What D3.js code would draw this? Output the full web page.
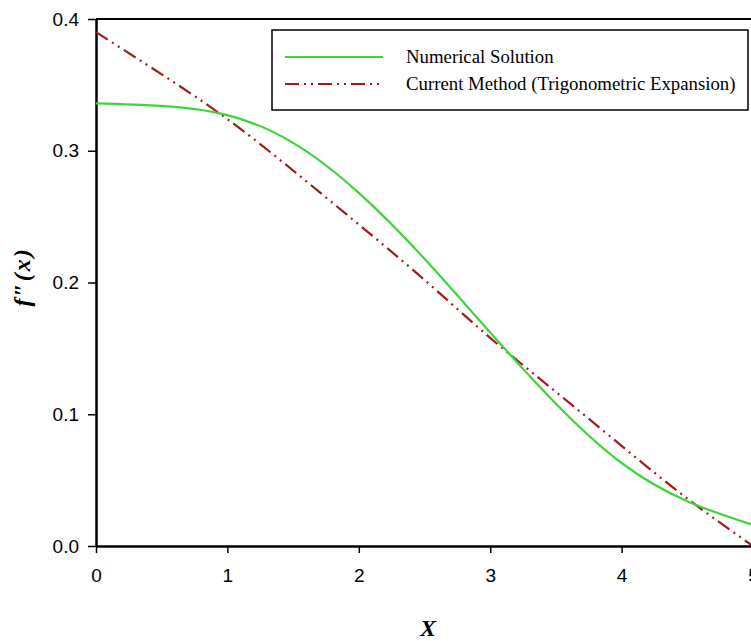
<!DOCTYPE html>
<html>
<head>
<meta charset="utf-8">
<script src="https://d3js.org/d3.v7.min.js"></script>
<style>
  body { margin: 0; background: #fff; }
  .axis text { font-family: "Liberation Sans", Arial, sans-serif; font-size: 19px; fill: #000; }
  .axis path, .axis line { stroke: #000; }
</style>
</head>
<body>
<div id="chartDiv"></div>
<script>
// data
var xs = [0, 0.5, 1, 1.5, 2, 2.5, 3, 3.5, 4, 4.5, 5];
var numerical = [0.336, 0.334, 0.327, 0.306, 0.268, 0.218, 0.162, 0.108, 0.063, 0.034, 0.016];
var current = [0.390, 0.358, 0.324, 0.285, 0.244, 0.202, 0.158, 0.117, 0.076, 0.036, 0.0];
var xTicks = [0, 1, 2, 3, 4, 5];
var yTicks = [0.0, 0.1, 0.2, 0.3, 0.4];
var seriesNames = ["Numerical Solution", "Current Method (Trigonometric Expansion)"];

var W = 751, H = 641;
var plotLeft = 96, plotRight = 753, plotTop = 19, plotBottom = 546;

var svg = d3.select('#chartDiv').append('svg')
  .attr('width', W).attr('height', H);

var x = d3.scaleLinear().domain([0, 5]).range([plotLeft, plotRight]);
var y = d3.scaleLinear().domain([0, 0.4]).range([plotBottom, plotTop]);

// top frame line
svg.append('line')
  .attr('x1', plotLeft).attr('x2', plotRight)
  .attr('y1', plotTop).attr('y2', plotTop)
  .attr('stroke', '#000').attr('stroke-width', 2);

// axes
var xAxis = d3.axisBottom(x).tickValues(xTicks).tickFormat(d3.format('d'))
  .tickSizeInner(7).tickSizeOuter(0).tickPadding(16);
svg.append('g').attr('class', 'axis')
  .attr('transform', 'translate(0,' + plotBottom + ')')
  .call(xAxis)
  .call(function(g) { g.select('.domain').attr('stroke-width', 2.5); g.selectAll('line').attr('stroke-width', 1.5); });

var yAxis = d3.axisLeft(y).tickValues(yTicks).tickFormat(d3.format('.1f'))
  .tickSizeInner(8).tickSizeOuter(0).tickPadding(9);
svg.append('g').attr('class', 'axis')
  .attr('transform', 'translate(' + plotLeft + ',0)')
  .call(yAxis)
  .call(function(g) { g.select('.domain').attr('stroke-width', 2.5); g.selectAll('line').attr('stroke-width', 1.5); });

// lines
var line = function(vals) {
  return d3.line()
    .x(function(d, i) { return x(xs[i]); })
    .y(function(d) { return y(d); })
    .curve(d3.curveNatural)(vals);
};

svg.append('path')
  .attr('d', line(current))
  .attr('fill', 'none')
  .attr('stroke', '#a01c1c')
  .attr('stroke-width', 2.2)
  .attr('stroke-dasharray', '14,5,2,5,2,5');

svg.append('path')
  .attr('d', line(numerical))
  .attr('fill', 'none')
  .attr('stroke', '#3fd43f')
  .attr('stroke-width', 2.2);

// legend
var lg = svg.append('g');
lg.append('rect')
  .attr('x', 272).attr('y', 30).attr('width', 476).attr('height', 80)
  .attr('fill', '#fff').attr('stroke', '#000').attr('stroke-width', 1.5);
var legendColors = ['#3fd43f', '#a01c1c'];
var legendDash = [null, '14,5,2,5,2,5'];
seriesNames.forEach(function(name, i) {
  var ly = 57 + i * 27;
  lg.append('line')
    .attr('x1', 285).attr('x2', 383).attr('y1', ly).attr('y2', ly)
    .attr('stroke', legendColors[i]).attr('stroke-width', 2.2)
    .attr('stroke-dasharray', legendDash[i]);
  lg.append('text')
    .attr('x', 406).attr('y', ly + 6)
    .style('font-family', '"Liberation Serif", "Times New Roman", serif')
    .style('font-size', '18.8px')
    .text(name);
});

// axis titles
svg.append('text')
  .attr('x', 428).attr('y', 636)
  .attr('text-anchor', 'middle')
  .style('font-family', '"Liberation Serif", "Times New Roman", serif')
  .style('font-size', '24px').style('font-weight', 'bold').style('font-style', 'italic')
  .text('X');

svg.append('text')
  .attr('transform', 'translate(30,277) rotate(-90)')
  .attr('text-anchor', 'middle')
  .style('font-family', '"Liberation Serif", "Times New Roman", serif')
  .style('font-size', '24px').style('font-weight', 'bold').style('font-style', 'italic')
  .style('letter-spacing', '2px')
  .text('f\u2033(x)');
</script>
</body>
</html>
